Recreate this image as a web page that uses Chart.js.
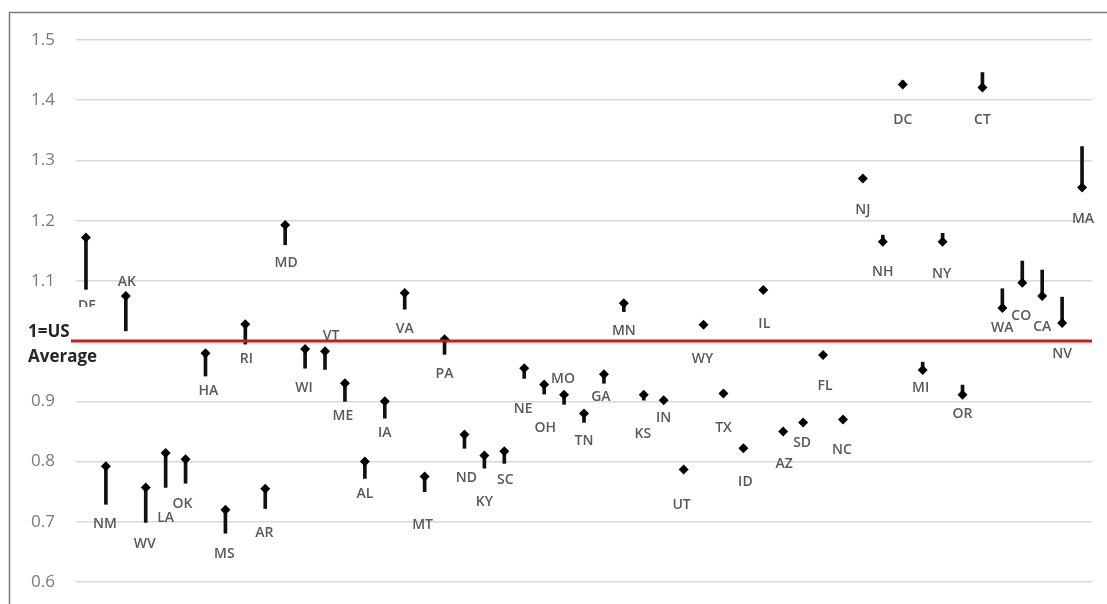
<!DOCTYPE html>
<html>
<head>
<meta charset="utf-8">
<script src="https://cdn.jsdelivr.net/npm/chart.js@4.4.1/dist/chart.umd.min.js"></script>
<style>
  html, body { margin: 0; padding: 0; background: #ffffff; }
  canvas { display: block; }
</style>
</head>
<body>
<canvas id="c" width="1107" height="604"></canvas>
<script>
// ---- data (ratio of state per-capita income to US average) ----
const states = ['DE','NM','AK','WV','LA','OK','HA','MS','RI','AR','MD','WI','VT','ME','AL','IA','VA','MT','PA','ND','KY','SC','NE','OH','MO','TN','GA','MN','KS','IN','UT','WY','TX','ID','IL','AZ','SD','FL','NC','NJ','NH','DC','MI','NY','OR','CT','WA','CO','CA','NV','MA'];
const startValues = [1.086,0.729,1.017,0.699,0.757,0.764,0.942,0.681,0.995,0.722,1.160,0.955,0.953,0.900,0.772,0.872,1.053,0.750,0.978,0.822,0.789,0.797,0.938,0.912,0.895,0.865,0.930,1.049,0.902,0.898,0.785,1.025,0.912,0.822,1.085,0.850,0.865,0.977,0.870,1.271,1.176,1.432,0.965,1.179,0.927,1.446,1.087,1.133,1.118,1.073,1.323];
const endValues = [1.172,0.792,1.075,0.757,0.814,0.804,0.980,0.720,1.028,0.755,1.193,0.987,0.983,0.930,0.800,0.900,1.080,0.775,1.003,0.845,0.810,0.817,0.955,0.928,0.911,0.880,0.945,1.063,0.911,0.902,0.787,1.027,0.913,0.822,1.085,0.850,0.865,0.977,0.870,1.270,1.165,1.426,0.952,1.165,0.911,1.421,1.055,1.097,1.075,1.030,1.255];
const yTickMin = 0.6, yTickMax = 1.5, yTickStep = 0.1;
const referenceValue = 1.0;
const referenceLabel = ['1=US', 'Average'];

// ---- layout config: label offsets (px) relative to the end marker ----
const labelOffsets = {
  DE:[1,68], NM:[-1,58], AK:[1,-14], WV:[-1,57], LA:[0,65], OK:[-3,45], HA:[3,38], MS:[-1,44],
  RI:[1,35], AR:[-1,44], MD:[1,38], WI:[-1,39], VT:[6,-15], ME:[-2,33], AL:[0,32], IA:[0,32],
  VA:[0,36], MT:[-2,48], PA:[0,35], ND:[2,44], KY:[0,46], SC:[1,29], NE:[-1,41], OH:[1,44],
  MO:[-1,-16], TN:[0,28], GA:[-3,23], MN:[0,28], KS:[-1,39], IN:[0,18], UT:[-2,36], WY:[-1,34],
  TX:[0,35], ID:[2,34], IL:[1,34], AZ:[1,33], SD:[-1,21], FL:[2,31], NC:[-1,31], NJ:[0,32],
  NH:[0,30], DC:[0,35], MI:[-2,18], NY:[-1,32], OR:[0,19], CT:[0,32], WA:[0,20], CO:[-1,33],
  CA:[0,31], NV:[0,31], MA:[1,31]
};

const framePlugin = {
  id: 'frame',
  beforeDraw(chart) {
    const ctx = chart.ctx;
    ctx.save();
    ctx.fillStyle = '#ffffff';
    ctx.fillRect(0, 0, chart.width, chart.height);
    ctx.strokeStyle = '#7a7a7a';
    ctx.lineWidth = 1.5;
    ctx.beginPath();
    ctx.moveTo(9.5, chart.height);
    ctx.lineTo(9.5, 12.5);
    ctx.lineTo(chart.width, 12.5);
    ctx.stroke();
    ctx.restore();
  }
};

const labelPlugin = {
  id: 'stateLabels',
  afterDatasetsDraw(chart) {
    const ctx = chart.ctx;
    const xs = chart.scales.x, ys = chart.scales.y;
    ctx.save();
    ctx.font = '600 14px "Open Sans"';
    ctx.fillStyle = '#595959';
    ctx.textAlign = 'center';
    ctx.textBaseline = 'middle';
    states.forEach((s, i) => {
      const off = labelOffsets[s] || [0, 30];
      const x = xs.getPixelForValue(i);
      const y = ys.getPixelForValue(endValues[i]);
      ctx.fillText(s, x + off[0], y + off[1]);
    });
    // white text box of the "1=US Average" note (clips DE label)
    const yRef = ys.getPixelForValue(referenceValue);
    ctx.fillStyle = '#ffffff';
    ctx.fillRect(20, yRef - 34, 80, 63);
    // reference line
    ctx.strokeStyle = '#c81e1e';
    ctx.lineWidth = 3;
    ctx.beginPath();
    ctx.moveTo(chart.chartArea.left - 5, yRef);
    ctx.lineTo(chart.chartArea.right, yRef);
    ctx.stroke();
    // note text
    ctx.font = 'bold 17px "Open Sans"';
    ctx.fillStyle = '#262626';
    ctx.textAlign = 'left';
    ctx.fillText(referenceLabel[0], 28, yRef - 9);
    ctx.fillText(referenceLabel[1], 28, yRef + 16);
    ctx.restore();
  }
};

new Chart(document.getElementById('c'), {
  type: 'bar',
  data: {
    labels: states,
    datasets: [
      {
        type: 'line',
        label: 'end',
        data: endValues,
        showLine: false,
        pointStyle: 'rectRot',
        pointRadius: 5,
        pointBackgroundColor: '#000000',
        pointBorderWidth: 0,
        order: 0
      },
      {
        label: 'change',
        data: states.map((s, i) => [startValues[i], endValues[i]]),
        backgroundColor: '#111111',
        borderWidth: 0,
        barThickness: 3,
        order: 1
      }
    ]
  },
  options: {
    responsive: false,
    devicePixelRatio: 1,
    animation: false,
    layout: { padding: { left: 0, right: 15, top: 40, bottom: 22 } },
    plugins: { legend: { display: false }, tooltip: { enabled: false } },
    scales: {
      x: { display: false, offset: true },
      y: {
        min: yTickMin, max: yTickMax,
        border: { display: false },
        grid: { color: '#d9d9d9', lineWidth: 1.5, drawTicks: true, tickLength: 21, tickColor: 'rgba(0,0,0,0)' },
        ticks: {
          stepSize: yTickStep,
          padding: 0,
          color: '#7a7a7a',
          font: { family: 'Open Sans', size: 17 },
          callback: v => Math.abs(v - referenceValue) < 1e-9 ? '' : Number(v).toFixed(1)
        },
        afterFit(scale) { scale.width = 76; }
      }
    }
  },
  plugins: [framePlugin, labelPlugin]
});
</script>
</body>
</html>
